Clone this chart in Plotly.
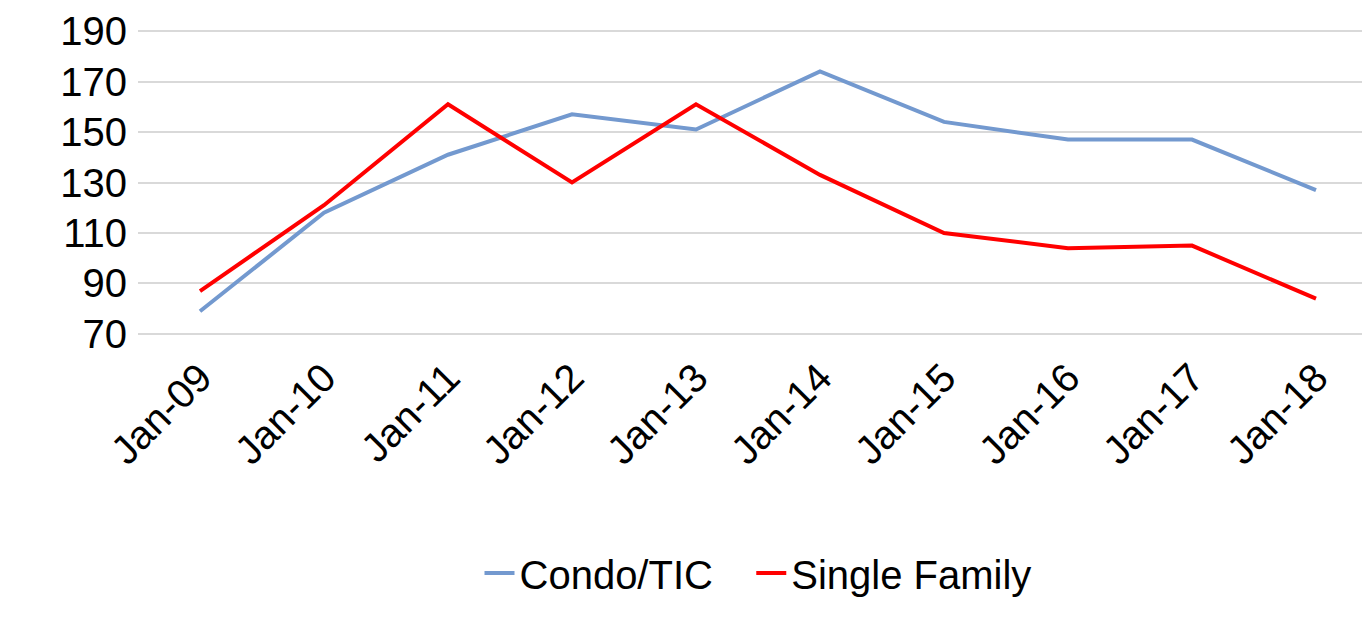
import plotly.graph_objects as go

categories = ["Jan-09","Jan-10","Jan-11","Jan-12","Jan-13","Jan-14","Jan-15","Jan-16","Jan-17","Jan-18"]
condo = [79,118,141,157,151,174,154,147,147,127]
single = [87,121,161,130,161,133,110,104,105,84]
yticks = [70,90,110,130,150,170,190]

fig = go.Figure()
fig.add_trace(go.Scatter(x=categories, y=condo, name="Condo/TIC   ", mode="lines",
                         line=dict(color="#7399cf", width=4)))
fig.add_trace(go.Scatter(x=categories, y=single, name="Single Family", mode="lines",
                         line=dict(color="#ff0000", width=4)))
fig.update_layout(
    width=1370, height=635, plot_bgcolor="white", paper_bgcolor="white",
    margin=dict(l=130, r=0, t=22, b=308),
    font=dict(family="Liberation Sans, Arial", size=40, color="black"),
    legend=dict(orientation="h", x=0.5, xanchor="center", y=-0.78, yanchor="middle",
                font=dict(size=40)),
    xaxis=dict(type="category", range=[-0.5, 9.5], tickangle=-45, showgrid=False,
               showline=False, ticks="", ticklabelstandoff=10),
    yaxis=dict(range=[69.6,190.4], tickvals=yticks, showgrid=True, gridcolor="#d9d9d9",
               gridwidth=2, zeroline=False, showline=False, ticks="", ticklabelstandoff=10),
)
fig.write_html("out.html")
